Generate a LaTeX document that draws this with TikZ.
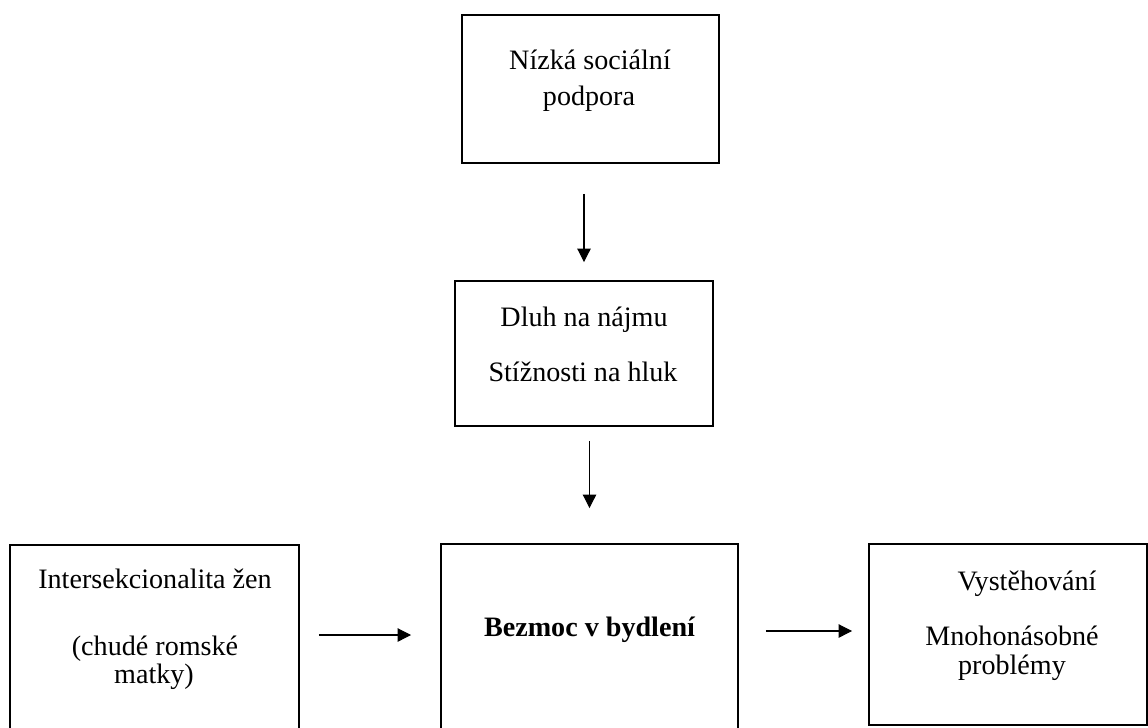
\documentclass[tikz,border=0pt]{standalone}
\usepackage{fontspec}
\setmainfont{Liberation Serif}
\usetikzlibrary{arrows.meta}
\tikzset{box/.style={draw, line width=1.1pt, inner sep=0pt},
         txt/.style={anchor=base, inner sep=0pt, font=\fontsize{16}{19}\selectfont},
         conn/.style={line width=0.6pt, -{Triangle[length=2.7mm,width=2.7mm]}}}

\begin{document}
\begin{tikzpicture}
   \useasboundingbox (0,0) rectangle (22.96,-14.54);
   % boxes
   \node[box, minimum width=5.14cm, minimum height=2.96cm] (nizka)  at (11.81, -1.78) {};
   \node[box, minimum width=5.16cm, minimum height=2.90cm] (dluh)   at (11.68, -7.07) {};
   \node[box, minimum width=5.78cm, minimum height=3.80cm] (inter)  at ( 3.09,-12.80) {};
   \node[box, minimum width=5.94cm, minimum height=3.82cm] (bezmoc) at (11.79,-12.79) {};
   \node[box, minimum width=5.56cm, minimum height=3.62cm] (vyst)   at (20.16,-12.69) {};
   % texts
   \node[txt] (nizka1)  at (11.80, -1.38) {Nízká sociální};
   \node[txt] (nizka2)  at (11.78, -2.10) {podpora};
   \node[txt] (dluh1)   at (11.68, -6.52) {Dluh na nájmu};
   \node[txt] (dluh2)   at (11.66, -7.62) {Stížnosti na hluk};
   \node[txt] (inter1)  at ( 3.10,-11.76) {Intersekcionalita žen};
   \node[txt] (inter2)  at ( 3.10,-13.10) {(chudé romské};
   \node[txt] (inter3)  at ( 3.08,-13.66) {matky)};
   \node[txt, font=\fontsize{16}{19}\selectfont\bfseries] (bezmoc1) at (11.79,-12.72) {Bezmoc v bydlení};
   \node[txt] (vyst1)   at (20.54,-11.80) {Vystěhování};
   \node[txt] (vyst2)   at (20.24,-12.90) {Mnohonásobné};
   \node[txt] (vyst3)   at (20.24,-13.48) {problémy};
   % arrows
   \draw[conn, shorten <=6.0mm, shorten >=3.6mm] (nizka.south -| dluh.north) -- (dluh.north);
   \draw[conn, shorten <=2.8mm, shorten >=7.0mm] (dluh.south -| bezmoc.north) -- (bezmoc.north);
   \draw[conn, shorten <=3.8mm, shorten >=5.8mm] ([yshift=1mm]inter.east) -- ([yshift=1mm]inter.east -| bezmoc.west);
   \draw[conn, shorten <=5.4mm, shorten >=3.2mm] ([yshift=1.7mm]bezmoc.east) -- ([yshift=1.7mm]bezmoc.east -| vyst.west);
\end{tikzpicture}
\end{document}
